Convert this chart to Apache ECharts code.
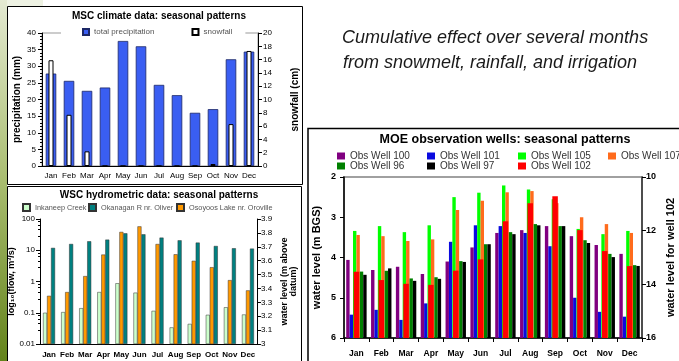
<!DOCTYPE html>
<html>
<head>
<meta charset="utf-8">
<script src="https://cdn.jsdelivr.net/npm/echarts@6/dist/echarts.min.js"></script>
<style>
  html, body { margin: 0; padding: 0; background: #fff; }
  #chart { width: 679px; height: 361px; }
</style>
</head>
<body>
<div id="chart"></div>
<script>
const FONT = 'Arial, "Liberation Sans", sans-serif';
const months = ["Jan", "Feb", "Mar", "Apr", "May", "Jun", "Jul", "Aug", "Sep", "Oct", "Nov", "Dec"];

// MSC climate data
const precipitation = [27.8, 25.6, 22.6, 23.6, 37.6, 36.0, 24.4, 21.3, 16.0, 17.1, 32.1, 34.4]; // mm
const snowfall = [15.9, 7.7, 2.2, 0, 0, 0, 0, 0, 0, 0.3, 6.3, 17.3]; // cm

// WSC hydrometric data
const inkaneepFlow = [0.1, 0.105, 0.14, 0.46, 0.88, 0.44, 0.115, 0.034, 0.044, 0.086, 0.15, 0.088];
const okanaganFlow = [11.9, 15.9, 19.4, 21.9, 34.9, 32.4, 25.4, 20.8, 17.6, 13.7, 11.6, 11.3];
const osoyoosLevel = [3.347, 3.374, 3.489, 3.644, 3.807, 3.847, 3.72, 3.646, 3.599, 3.553, 3.46, 3.386];

// MOE observation wells (m BGS)
const well100 = [4.06, 4.31, 4.23, 4.41, 4.10, 3.75, 3.39, 3.32, 3.22, 3.47, 3.69, 3.91];
const well101 = [5.42, 5.30, 5.55, 5.14, 3.61, 3.20, 3.22, 3.39, 3.72, 5.00, 5.35, 5.47];
const well105 = [3.34, 3.22, 3.37, 3.20, 2.50, 2.39, 2.21, 2.31, 2.55, 3.29, 3.42, 3.34];
const well107 = [3.44, 3.47, 3.59, 3.55, 2.82, 2.59, 2.38, 2.35, 2.65, 3.00, 3.17, 3.39];
const well96 = [4.35, 4.33, 4.52, 4.49, 4.09, 3.67, 3.37, 3.17, 3.22, 3.57, 3.91, 4.19];
const well97 = [4.43, 4.27, 4.58, 4.53, 4.11, 3.67, 3.42, 3.20, 3.22, 3.64, 3.99, 4.21];
const well102 = [13.53, 13.84, 13.98, 14.02, 13.49, 13.07, 11.65, 10.98, 10.72, 11.98, 12.76, 13.32]; // right axis

const chart = echarts.init(document.getElementById("chart"), null, { renderer: "canvas" });

const blackLine = { show: true, lineStyle: { color: "#000", width: 1 } };
const lbl = (size, bold, margin) => ({
  color: "#000", fontSize: size, fontWeight: bold ? "bold" : "normal", fontFamily: FONT, margin, interval: 0
});
const nameStyle = (size) => ({ color: "#000", fontSize: size, fontWeight: "bold", fontFamily: FONT });

const txt = (x, y, text, size, weight, extra) => ({
  type: "text", x, y, silent: true,
  style: Object.assign({
    text, fill: "#000", fontSize: size, fontWeight: weight, fontFamily: FONT,
    align: "center", verticalAlign: "middle", textAlign: "center", textVerticalAlign: "middle"
  }, extra || {})
});

// one legend entry placed at an absolute spot
const legendItem = (name, left, top, size, color, iw, ih) => ({
  left, top, padding: 0, itemWidth: iw, itemHeight: ih, icon: "rect", selectedMode: false,
  textStyle: { fontSize: size, color, fontFamily: FONT }, data: [name]
});

const wellBar = (name, data, color) => ({
  name, type: "bar", xAxisIndex: 3, yAxisIndex: 4, data,
  barWidth: 3.4, barGap: "0%",
  itemStyle: { color }
});

const option = {
  animation: false,
  textStyle: { fontFamily: FONT },
  graphic: [
    {
      type: "rect", silent: true, z: -10,
      shape: { x: 0, y: 0, width: 7, height: 361 },
      style: {
        fill: new echarts.graphic.LinearGradient(0, 0, 0, 1, [
          { offset: 0, color: "#e4ead2" },
          { offset: 0.5, color: "#a9bd70" },
          { offset: 1, color: "#63831b" }
        ])
      }
    },
    { type: "rect", silent: true, z: -10, shape: { x: 7, y: 0, width: 36, height: 6 }, style: { fill: "#eef2e3" } },
    // panel frames
    { type: "rect", silent: true, shape: { x: 7.5, y: 6.5, width: 295, height: 178 }, style: { fill: null, stroke: "#000", lineWidth: 1 } },
    { type: "rect", silent: true, shape: { x: 7.5, y: 186.5, width: 294, height: 180 }, style: { fill: null, stroke: "#000", lineWidth: 1 } },
    { type: "rect", silent: true, shape: { x: 308, y: 128.5, width: 380, height: 240 }, style: { fill: null, stroke: "#000", lineWidth: 1.5 } },
    // titles
    txt(159, 16, "MSC climate data: seasonal patterns", 10, "bold"),
    txt(159, 195, "WSC hydrometric data: seasonal patterns", 10, "bold"),
    txt(505, 140, "MOE observation wells: seasonal patterns", 12.5, "bold"),
    txt(342, 38, "Cumulative effect over several months", 18, "normal",
      { fontStyle: "italic", align: "left", textAlign: "left", fill: "#1a1a1a" }),
    txt(343, 63, "from snowmelt, rainfall, and irrigation", 18, "normal",
      { fontStyle: "italic", align: "left", textAlign: "left", fill: "#1a1a1a" })
  ],
  legend: [
    {
      left: 61, top: 25, padding: [3, 13, 3, 21], backgroundColor: "#fff",
      itemWidth: 6, itemHeight: 6, itemGap: 37, icon: "rect", selectedMode: false,
      textStyle: { fontSize: 8, color: "#555", fontFamily: FONT },
      data: ["total precipitation", "snowfall"]
    },
    legendItem("Inkaneep Creek", 22, 203, 7.3, "#555", 7, 7),
    legendItem("Okanagan R nr. Oliver", 88, 203, 7.3, "#555", 7, 7),
    legendItem("Osoyoos Lake nr. Oroville", 176, 203, 7.3, "#555", 7, 7),
    legendItem("Obs Well 100", 337, 151, 10, "#333", 8, 7),
    legendItem("Obs Well 101", 427, 151, 10, "#333", 8, 7),
    legendItem("Obs Well 105", 518, 151, 10, "#333", 8, 7),
    legendItem("Obs Well 107", 608, 151, 10, "#333", 8, 7),
    legendItem("Obs Well 96", 337, 161, 10, "#333", 8, 7),
    legendItem("Obs Well 97", 427, 161, 10, "#333", 8, 7),
    legendItem("Obs Well 102", 518, 161, 10, "#333", 8, 7)
  ],
  grid: [
    { left: 42, top: 33, width: 216, height: 133, show: true, borderColor: "#999", borderWidth: 1, outerBoundsMode: "none" },
    { left: 40, top: 219, width: 217, height: 125, outerBoundsMode: "none" },
    { left: 344, top: 177, width: 298, height: 161, show: true, borderColor: "#a0a0a0", borderWidth: 2, outerBoundsMode: "none" }
  ],
  xAxis: [
    { gridIndex: 0, type: "category", data: months, axisLine: blackLine, axisTick: { show: false }, axisLabel: lbl(8, false, 6) },
    { gridIndex: 0, type: "category", data: months, show: false },
    { gridIndex: 1, type: "category", data: months, axisLine: blackLine, axisTick: { show: false }, axisLabel: lbl(8, true, 7) },
    {
      gridIndex: 2, type: "category", data: months, axisLine: { show: true, lineStyle: { color: "#000", width: 1.5 } },
      axisTick: { show: true, alignWithLabel: false, interval: 0, length: 4, lineStyle: { color: "#000" } },
      axisLabel: lbl(8.5, true, 11)
    },
    { gridIndex: 2, type: "category", data: months, show: false }
  ],
  yAxis: [
    {
      gridIndex: 0, type: "value", min: 0, max: 40, interval: 5,
      name: "precipitation (mm)", nameLocation: "middle", nameGap: 20, nameTextStyle: nameStyle(10),
      axisLine: blackLine, axisTick: { show: true, length: 4, lineStyle: { color: "#000" } },
      minorTick: { show: true, splitNumber: 5, length: 2, lineStyle: { color: "#000" } },
      splitLine: { show: false }, axisLabel: lbl(8, false, 6)
    },
    {
      gridIndex: 0, type: "value", position: "right", min: 0, max: 20, interval: 2,
      name: "snowfall (cm)", nameLocation: "middle", nameGap: 32, nameTextStyle: nameStyle(10),
      axisLine: blackLine, axisTick: { show: true, length: 4, lineStyle: { color: "#000" } },
      splitLine: { show: false }, axisLabel: lbl(8, false, 5)
    },
    {
      gridIndex: 1, type: "log", logBase: 10, min: 0.01, max: 100, startValue: 0.01,
      name: "log\u2081\u2080(flow, m\u00b3/s)", nameLocation: "middle", nameGap: 19, nameTextStyle: nameStyle(9),
      axisLine: blackLine, axisTick: { show: true, length: 4, lineStyle: { color: "#000" } },
      minorTick: { show: true, splitNumber: 5, length: 2, lineStyle: { color: "#000" } },
      splitLine: { show: false }, axisLabel: lbl(8, false, 5)
    },
    {
      gridIndex: 1, type: "value", position: "right", min: 3, max: 3.9, interval: 0.1,
      name: "water level (m above\ndatum)", nameLocation: "middle", nameGap: 23, nameTextStyle: nameStyle(9),
      axisLine: blackLine, axisTick: { show: true, length: 4, lineStyle: { color: "#000" } },
      splitLine: { show: false }, axisLabel: lbl(8, false, 4)
    },
    {
      gridIndex: 2, type: "value", min: 2, max: 6, interval: 1, inverse: true, startValue: 6,
      name: "water level (m BGS)", nameLocation: "middle", nameGap: 22, nameTextStyle: nameStyle(11),
      axisLine: { show: true, lineStyle: { color: "#000", width: 1.5 } },
      axisTick: { show: true, length: 4, lineStyle: { color: "#000" } },
      splitLine: { show: false }, axisLabel: lbl(9, true, 8)
    },
    {
      gridIndex: 2, type: "value", position: "right", min: 10, max: 16, interval: 2, inverse: true, startValue: 16,
      name: "water level for well 102", nameLocation: "middle", nameGap: 23, nameTextStyle: nameStyle(11),
      axisLine: { show: true, lineStyle: { color: "#333", width: 1.5 } },
      axisTick: { show: true, length: 4, lineStyle: { color: "#000" } },
      splitLine: { show: false }, axisLabel: lbl(9, true, 4)
    }
  ],
  series: [
    {
      name: "total precipitation", type: "bar", xAxisIndex: 0, yAxisIndex: 0, data: precipitation,
      barWidth: 10.5, itemStyle: { color: "#3a5ef2", borderColor: "#1c2766", borderWidth: 0.8 }
    },
    {
      name: "snowfall", type: "bar", xAxisIndex: 1, yAxisIndex: 1, data: snowfall,
      barWidth: 5, z: 3, itemStyle: { color: "#fff", borderColor: "#000", borderWidth: 1 }
    },
    {
      name: "Inkaneep Creek", type: "bar", xAxisIndex: 2, yAxisIndex: 2, data: inkaneepFlow,
      barWidth: 4, barGap: "0%", itemStyle: { color: "#ccffcc", borderColor: "#333", borderWidth: 0.5 }
    },
    {
      name: "Osoyoos Lake nr. Oroville", type: "bar", xAxisIndex: 2, yAxisIndex: 3, data: osoyoosLevel,
      barWidth: 4, barGap: "0%", itemStyle: { color: "#ff9900", borderColor: "#333", borderWidth: 0.5 }
    },
    {
      name: "Okanagan R nr. Oliver", type: "bar", xAxisIndex: 2, yAxisIndex: 2, data: okanaganFlow,
      barWidth: 4, barGap: "0%", itemStyle: { color: "#008080", borderColor: "#333", borderWidth: 0.5 }
    },
    wellBar("Obs Well 100", well100, "#800080"),
    wellBar("Obs Well 101", well101, "#0a0adf"),
    wellBar("Obs Well 105", well105, "#00ff00"),
    wellBar("Obs Well 107", well107, "#ff6b1c"),
    wellBar("Obs Well 96", well96, "#008000"),
    wellBar("Obs Well 97", well97, "#000000"),
    {
      name: "Obs Well 102", type: "bar", xAxisIndex: 4, yAxisIndex: 5, data: well102,
      barWidth: 5.5, itemStyle: { color: "#ff0000" }
    }
  ]
};

chart.setOption(option);
</script>
</body>
</html>
